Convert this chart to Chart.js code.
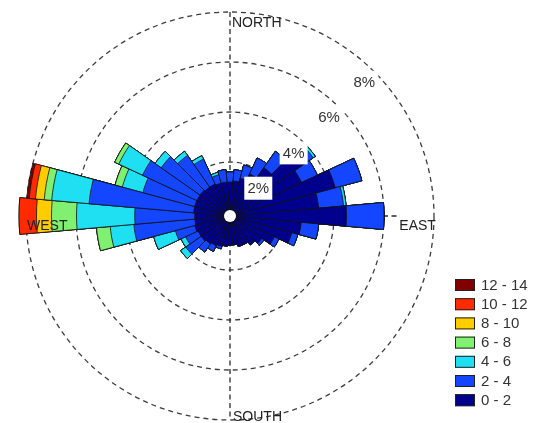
<!DOCTYPE html>
<html>
<head>
<meta charset="utf-8">
<script src="https://cdn.jsdelivr.net/npm/chart.js@4/dist/chart.umd.min.js"></script>
<style>
  html, body { margin: 0; padding: 0; background: #ffffff; }
  #wrap { width: 547px; height: 423px; position: relative; }
</style>
</head>
<body>
<div id="wrap"><canvas id="rose" width="547" height="423"></canvas></div>
<script>
// Wind directions (degrees, clockwise from north), 10-degree sectors
const directions = [0, 10, 20, 30, 40, 50, 60, 70, 80, 90, 100, 110, 120, 130, 140, 150, 160, 170,
                    180, 190, 200, 210, 220, 230, 240, 250, 260, 270, 280, 290, 300, 310, 320, 330, 340, 350];

// Wind speed classes, slowest first
const speedBins = ['0 - 2', '2 - 4', '4 - 6', '6 - 8', '8 - 10', '10 - 12', '12 - 14'];
const binColors = ['#00008c', '#1446ff', '#1ee0f2', '#80f070', '#ffcc00', '#ff2a00', '#800000'];

// Frequency (%) of each speed class per direction
const freq0to2 = [1.2, 1.25, 1.4, 1.7, 2.2, 3.5, 3.0, 4.2, 3.4, 4.5, 2.7, 2.4, 1.8, 1.4, 1.25, 1.1, 1.1, 1.0,
                  1.0, 1.05, 1.1, 1.15, 1.2, 1.25, 1.25, 1.3, 1.25, 1.25, 1.3, 1.3, 1.3, 1.3, 1.25, 1.25, 1.2, 1.2];
const freq2to4 = [0.4, 0.45, 0.55, 0.7, 0.8, 0.4, 0.7, 1.1, 1.0, 1.5, 0.7, 0.25, 0.2, 0.1, 0, 0, 0, 0,
                  0, 0, 0.1, 0.25, 0.4, 0.75, 0.55, 0.8, 2.45, 2.4, 4.2, 2.15, 2.4, 1.9, 1.55, 1.1, 0.35, 0.5];
const freq4to6 = [0, 0, 0, 0, 0, 0.1, 0, 0, 0.1, 0, 0, 0, 0, 0, 0, 0, 0, 0,
                  0, 0, 0, 0, 0, 0.25, 0.2, 0.9, 0.95, 2.33, 1.5, 0.85, 1.05, 0.3, 0.2, 0.15, 0.1, 0];
const freq6to8 = [0, 0, 0, 0, 0, 0, 0, 0, 0, 0, 0, 0, 0, 0, 0, 0, 0, 0,
                  0, 0, 0, 0, 0, 0, 0, 0, 0.55, 1.0, 0.3, 0.3, 0.18, 0, 0, 0, 0, 0];
const freq8to10 = [0, 0, 0, 0, 0, 0, 0, 0, 0, 0, 0, 0, 0, 0, 0, 0, 0, 0,
                   0, 0, 0, 0, 0, 0, 0, 0, 0, 0.6, 0.35, 0, 0, 0, 0, 0, 0, 0];
const freq10to12 = [0, 0, 0, 0, 0, 0, 0, 0, 0, 0, 0, 0, 0, 0, 0, 0, 0, 0,
                    0, 0, 0, 0, 0, 0, 0, 0, 0, 0.7, 0.25, 0, 0, 0, 0, 0, 0, 0];
const freq12to14 = [0, 0, 0, 0, 0, 0, 0, 0, 0, 0, 0, 0, 0, 0, 0, 0, 0, 0,
                    0, 0, 0, 0, 0, 0, 0, 0, 0, 0, 0.1, 0, 0, 0, 0, 0, 0, 0];

// Radial rings (%)
const ringTicks = [2, 4, 6, 8];
const ringLabels = ['2%', '4%', '6%', '8%'];
const compassLabels = ['NORTH', 'EAST', 'SOUTH', 'WEST'];

const binSeries = [freq0to2, freq2to4, freq4to6, freq6to8, freq8to10, freq10to12, freq12to14];

// Stack the classes: each ring of petals reaches the running total
const running = directions.map(() => 0);
const stacked = binSeries.map(series => series.map((v, i) => (running[i] += v)));

const datasets = stacked.map((cum, k) => ({
  label: speedBins[k],
  data: cum.map(v => +v.toFixed(3)),
  backgroundColor: binColors[k],
  borderColor: '#101010',
  borderWidth: 0.8
}));

const FONT = '"Liberation Sans", Arial, sans-serif';

const roseDecor = {
  id: 'roseDecor',
  beforeDatasetsDraw(chart) {
    const s = chart.scales.r, ctx = chart.ctx;
    const R = s.getDistanceFromCenterForValue(ringTicks[ringTicks.length - 1]);
    ctx.save();
    ctx.strokeStyle = '#2a2a2a';
    ctx.lineWidth = 1.3;
    ctx.setLineDash([5, 3.5]);
    ctx.beginPath();
    ctx.moveTo(s.xCenter, s.yCenter - R);
    ctx.lineTo(s.xCenter, s.yCenter + R);
    ctx.moveTo(s.xCenter - R, s.yCenter);
    ctx.lineTo(s.xCenter + R * 0.83, s.yCenter);
    ctx.stroke();
    ctx.restore();
  },
  afterDatasetsDraw(chart) {
    const s = chart.scales.r, ctx = chart.ctx;
    const cx = s.xCenter, cy = s.yCenter;
    ctx.save();
    // calm hole in the middle
    ctx.fillStyle = '#ffffff';
    ctx.beginPath();
    ctx.arc(cx, cy, 6, 0, Math.PI * 2);
    ctx.fill();

    // percentage labels along the 45-degree line
    ctx.font = '15px ' + FONT;
    ctx.textAlign = 'center';
    ctx.textBaseline = 'middle';
    ringTicks.forEach((t, i) => {
      const r = s.getDistanceFromCenterForValue(t) - 14;
      const x = cx + r * Math.SQRT1_2, y = cy - r * Math.SQRT1_2;
      ctx.fillStyle = '#ffffff';
      ctx.fillRect(x - 14, y - 11, 28, 23);
      ctx.fillStyle = '#333333';
      ctx.fillText(ringLabels[i], x, y + 1);
    });

    // compass labels
    const R = s.getDistanceFromCenterForValue(ringTicks[ringTicks.length - 1]);
    ctx.font = '14px ' + FONT;
    ctx.textAlign = 'left';
    ctx.textBaseline = 'alphabetic';
    ctx.fillStyle = '#222222';
    ctx.fillText(compassLabels[0], cx + 2, cy - R + 15);
    ctx.fillText(compassLabels[1], cx + R * 0.83, cy + 14);
    ctx.fillText(compassLabels[2], cx + 3, cy + R + 1);
    ctx.fillText(compassLabels[3], cx - R + 1, cy + 14);
    ctx.restore();
  },
  afterDraw(chart) {
    const ctx = chart.ctx;
    ctx.save();
    ctx.font = '15px ' + FONT;
    ctx.textAlign = 'left';
    ctx.textBaseline = 'middle';
    const n = speedBins.length;
    for (let j = 0; j < n; j++) {
      const k = n - 1 - j;
      const y = 279 + j * 19.2;
      ctx.fillStyle = binColors[k];
      ctx.fillRect(455, y, 20, 12);
      ctx.strokeStyle = '#222222';
      ctx.lineWidth = 1;
      ctx.strokeRect(455.5, y + 0.5, 19, 11);
      ctx.fillStyle = '#333333';
      ctx.fillText(speedBins[k], 481, y + 6.5);
    }
    ctx.restore();
  }
};

new Chart(document.getElementById('rose'), {
  type: 'polarArea',
  data: { labels: directions.map(d => d + '°'), datasets },
  options: {
    responsive: false,
    animation: false,
    events: [],
    layout: { padding: { left: 26, top: 12, right: 113, bottom: 3 } },
    plugins: { legend: { display: false }, tooltip: { enabled: false } },
    scales: {
      r: {
        startAngle: -5,
        min: -0.16,
        max: 8,
        beginAtZero: false,
        afterBuildTicks(scale) { scale.ticks = ringTicks.map(v => ({ value: v })); },
        ticks: { display: false },
        pointLabels: { display: false },
        angleLines: { display: false },
        grid: { circular: true, color: '#3c3c3c', lineWidth: 1.3 },
        border: { dash: [5, 4] }
      }
    }
  },
  plugins: [roseDecor]
});
</script>
</body>
</html>
